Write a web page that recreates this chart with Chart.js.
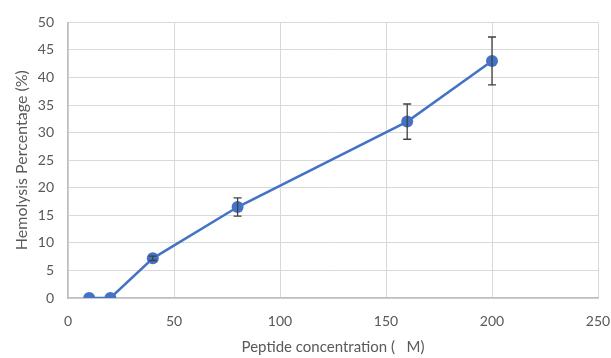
<!DOCTYPE html>
<html>
<head>
<meta charset="utf-8">
<script src="https://cdn.jsdelivr.net/npm/chart.js@4.4.0/dist/chart.umd.min.js"></script>
<style>
  html, body { margin: 0; padding: 0; background: #fff; }
  #wrap { width: 611px; height: 358px; }
</style>
</head>
<body>
<div id="wrap"><canvas id="grafico" width="611" height="358"></canvas></div>
<script>
// datos
const concentraciones = [10, 20, 40, 80, 160, 200];
const hemolisis = [0, 0, 7.2, 16.5, 32, 43];
const errores = [0, 0, 0.4, 1.65, 3.2, 4.35];
const ticksX = [0, 50, 100, 150, 200, 250];
const ticksY = [0, 5, 10, 15, 20, 25, 30, 35, 40, 45, 50];

const puntos = concentraciones.map((x, i) => ({ x: x, y: hemolisis[i] }));

// barras de error dibujadas con las escalas del chart
const pluginErrores = {
  id: 'errores',
  afterDatasetsDraw(chart) {
    const ctx = chart.ctx;
    const sx = chart.scales.x, sy = chart.scales.y;
    ctx.save();
    ctx.strokeStyle = '#404040';
    ctx.lineWidth = 1.3;
    concentraciones.forEach((x, i) => {
      if (!errores[i]) return;
      const px = sx.getPixelForValue(x);
      const top = sy.getPixelForValue(hemolisis[i] + errores[i]);
      const bot = sy.getPixelForValue(hemolisis[i] - errores[i]);
      ctx.beginPath();
      ctx.moveTo(px, top); ctx.lineTo(px, bot);
      ctx.moveTo(px - 4, top); ctx.lineTo(px + 4, top);
      ctx.moveTo(px - 4, bot); ctx.lineTo(px + 4, bot);
      ctx.stroke();
    });
    ctx.restore();
  }
};

const fuente = { family: 'Lato, "Open Sans", sans-serif', size: 14 };

new Chart(document.getElementById('grafico'), {
  type: 'scatter',
  data: {
    datasets: [{
      data: puntos,
      showLine: true,
      borderColor: '#4472C4',
      backgroundColor: '#4472C4',
      borderWidth: 2.5,
      pointRadius: 6,
      pointBorderWidth: 0,
      pointHoverRadius: 6
    }]
  },
  options: {
    responsive: false,
    animation: false,
    layout: { padding: { top: 22, right: 13, left: 12, bottom: 2 } },
    plugins: { legend: { display: false }, tooltip: { enabled: false } },
    scales: {
      x: {
        type: 'linear',
        min: 0, max: 250,
        afterBuildTicks: ax => { ax.ticks = ticksX.map(v => ({ value: v })); },
        afterFit: ax => { ax.height = 58; ax.paddingRight = 0; ax.paddingLeft = 0; },
        grid: { color: '#d9d9d9', lineWidth: 1, drawTicks: false },
        border: { color: '#bfbfbf', width: 1.5 },
        ticks: { color: '#595959', font: fuente, padding: 15, maxRotation: 0 },
        title: {
          display: true,
          text: 'Peptide concentration (   M)',
          color: '#595959',
          font: { family: fuente.family, size: 15 },
          padding: { top: 4, bottom: 0 }
        }
      },
      y: {
        min: 0, max: 50,
        afterBuildTicks: ax => { ax.ticks = ticksY.map(v => ({ value: v })); },
        afterFit: ax => { ax.width = 56; },
        grid: { color: '#d9d9d9', lineWidth: 1, drawTicks: false },
        border: { color: '#bfbfbf', width: 1.5 },
        ticks: { color: '#595959', font: fuente, padding: 14 },
        title: {
          display: true,
          text: 'Hemolysis Percentage (%)',
          color: '#595959',
          font: { family: fuente.family, size: 16 },
          padding: { top: 0, bottom: 0 }
        }
      }
    }
  },
  plugins: [pluginErrores]
});
</script>
</body>
</html>
